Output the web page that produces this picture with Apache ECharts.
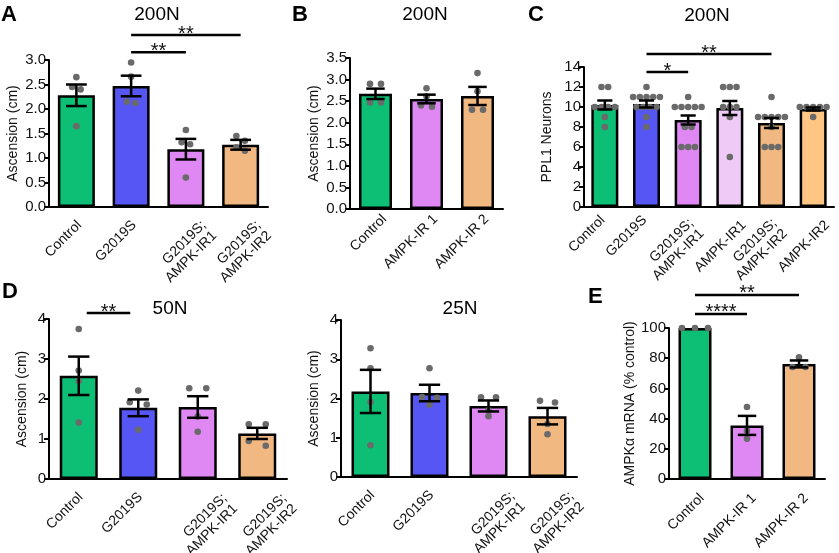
<!DOCTYPE html>
<html><head><meta charset="utf-8">
<script src="https://cdn.jsdelivr.net/npm/echarts@6/dist/echarts.min.js"></script>
<style>html,body{margin:0;padding:0;background:#fff}#c{width:839px;height:553px}</style>
</head><body><div id="c"></div>
<script>
// ---------------- DATA ----------------
// Panel A (200N)
const catsA = ['Control', 'G2019S', 'G2019S;\nAMPK-IR1', 'G2019S;\nAMPK-IR2'];
const meanA = [2.28, 2.47, 1.18, 1.27];
const semA  = [0.22, 0.21, 0.21, 0.10];
const ptsA  = [[2.65, 2.45, 2.40, 1.65], [2.95, 2.66, 2.15, 2.12], [1.57, 1.32, 1.28, 0.60], [1.45, 1.35, 1.22, 1.15]];
const ticksA = [0, 0.5, 1.0, 1.5, 2.0, 2.5, 3.0];
const sigA = [[1, 2, 3.16], [1, 3, 3.51]];
const sigTextA = ['**', '**'];

// Panel B (200N)
const catsB = ['Control', 'AMPK-IR 1', 'AMPK-IR 2'];
const meanB = [2.67, 2.55, 2.62];
const semB  = [0.12, 0.10, 0.21];
const ptsB  = [[2.90, 2.90, 2.47, 2.47], [2.80, 2.61, 2.40, 2.37], [3.15, 2.73, 2.30, 2.30]];
const ticksB = [0, 0.5, 1.0, 1.5, 2.0, 2.5, 3.0, 3.5];

// Panel C (200N, PPL1 neurons)
const catsC = ['Control', 'G2019S', 'G2019S;\nAMPK-IR1', 'AMPK-IR1', 'G2019S;\nAMPK-IR2', 'AMPK-IR2'];
const meanC = [10.2, 10.3, 8.7, 9.9, 8.4, 9.8];
const semC  = [0.45, 0.35, 0.45, 0.7, 0.5, 0.15];
const ptsC  = [
  [12, 12, 10, 10, 10, 10, 9, 8],
  [12, 11, 11, 11, 11, 11, 10, 10, 10, 10, 9, 8],
  [11, 10, 10, 10, 10, 10, 8, 8, 6, 6, 6],
  [12, 12, 12, 10, 10, 10, 9, 5],
  [11, 9, 9, 9, 9, 9, 8, 6, 6, 6],
  [10, 10, 10, 10, 10, 9]
];
const ticksC = [0, 2, 4, 6, 8, 10, 12, 14];
const sigC = [[1, 2, 13.5], [1, 4, 15.3]];
const sigTextC = ['*', '**'];

// Panel D (50N)
const catsD = ['Control', 'G2019S', 'G2019S;\nAMPK-IR1', 'G2019S;\nAMPK-IR2'];
const meanD = [2.58, 1.78, 1.80, 1.14];
const semD  = [0.48, 0.21, 0.27, 0.14];
const ptsD  = [[3.75, 2.71, 2.45, 1.41], [2.21, 1.92, 1.86, 1.23], [2.27, 2.27, 1.56, 1.18], [1.37, 1.37, 0.95, 0.83]];
const ticksD = [0, 1, 2, 3, 4];
const sigD = [[0, 1, 4.15]];
const sigTextD = ['**'];

// Panel D right (25N)
const catsF = ['Control', 'G2019S', 'G2019S;\nAMPK-IR1', 'G2019S;\nAMPK-IR2'];
const meanF = [2.18, 2.14, 1.81, 1.55];
const semF  = [0.55, 0.21, 0.14, 0.21];
const ptsF  = [[3.28, 2.77, 1.91, 0.81], [2.77, 2.04, 2.02, 1.84], [2.03, 2.03, 1.70, 1.55], [1.94, 1.90, 1.35, 1.09]];
const ticksF = [0, 1, 2, 3, 4];

// Panel E (mRNA)
const catsE = ['Control', 'AMPK-IR 1', 'AMPK-IR 2'];
const meanE = [100, 35.5, 76.2];
const semE  = [0, 6.3, 2.3];
const ptsE  = [[100, 100, 100], [47.7, 32, 26.7], [80.6, 74.2, 74.2]];
const ticksE = [0, 20, 40, 60, 80, 100];
const sigE = [[0, 2, 121.9], [0, 1, 109.3]];
const sigTextE = ['**', '****'];

// ---------------- STYLE ----------------
const GREEN = '#0cbf74', BLUE = '#5656f5', VIOLET = '#df88f4', PINK = '#efcaf6', TAN = '#f1b981', ORANGE = '#ffc583';
const FONT = '"Liberation Sans", Arial, Helvetica, sans-serif';
const INK = '#111';

const panels = [
  {cats: catsA, mean: meanA, sem: semA, pts: ptsA, ticks: ticksA, sig: sigA, sigText: sigTextA,
   colors: [GREEN, BLUE, VIOLET, TAN], grid: {left: 49, top: 60, width: 219, height: 147},
   barW: 37, spread: 8.5, yName: 'Ascension (cm)', nameGap: 29, dec: 1, sigInset: 0,
   lab1: [3, 16], lab2: [18, 16], labOff: {}},
  {cats: catsB, mean: meanB, sem: semB, pts: ptsB, ticks: ticksB, sig: [], sigText: [],
   colors: [GREEN, VIOLET, TAN], grid: {left: 350, top: 58, width: 153, height: 151},
   barW: 33, spread: 11, yName: 'Ascension (cm)', nameGap: 29, dec: 1, sigInset: 0,
   lab1: [9, 8], lab2: [20, 16], labOff: {}},
  {cats: catsC, mean: meanC, sem: semC, pts: ptsC, ticks: ticksC, sig: sigC, sigText: sigTextC,
   colors: [GREEN, BLUE, VIOLET, PINK, TAN, ORANGE], grid: {left: 584, top: 67, width: 250, height: 140},
   barW: 27, spread: 6.7, yName: 'PPL1 Neurons', nameGap: 30, dec: 0, sigInset: 0,
   lab1: [-2, 11], lab2: [3, 14], labOff: {3: [14, 16], 5: [14, 16]}},
  {cats: catsD, mean: meanD, sem: semD, pts: ptsD, ticks: ticksD, sig: sigD, sigText: sigTextD,
   colors: [GREEN, BLUE, VIOLET, TAN], grid: {left: 49, top: 319, width: 238, height: 160},
   barW: 38, spread: 17, yName: 'Ascension (cm)', nameGap: 20, dec: 0, sigInset: 8,
   lab1: [2, 16], lab2: [27, 17], labOff: {}},
  {cats: catsF, mean: meanF, sem: semF, pts: ptsF, ticks: ticksF, sig: [], sigText: [],
   colors: [GREEN, BLUE, VIOLET, TAN], grid: {left: 341, top: 320, width: 236, height: 157},
   barW: 38, spread: 15, yName: 'Ascension (cm)', nameGap: 20, dec: 0, sigInset: 0,
   lab1: [2, 16], lab2: [24, 17], labOff: {}},
  {cats: catsE, mean: meanE, sem: semE, pts: ptsE, ticks: ticksE, sig: sigE, sigText: sigTextE,
   colors: [GREEN, VIOLET, TAN], grid: {left: 669, top: 328, width: 156, height: 151},
   barW: 33, spread: 13, yName: 'AMPKα mRNA (% control)', nameGap: 29, dec: 0, sigInset: 0,
   lab1: [7, 17], lab2: [20, 16], labOff: {}}
];

const V = [Math.SQRT1_2, Math.SQRT1_2];
const LH = 15;
const LABEL_FONT = '14px ' + FONT;

function swarm(ys, spacing, thresh) {
  const idx = ys.map((y, i) => i).sort((a, b) => ys[a] - ys[b]);
  const off = new Array(ys.length).fill(0);
  let row = [];
  const flush = () => { row.forEach((i, j) => { off[i] = (j - (row.length - 1) / 2) * spacing; }); row = []; };
  idx.forEach(i => {
    if (row.length && Math.abs(ys[i] - ys[row[0]]) > thresh) flush();
    row.push(i);
  });
  flush();
  return off;
}

function txt(s, x, y) {
  return {type: 'text', x: x, y: y, rotation: Math.PI / 4,
    style: {text: s, align: 'right', verticalAlign: 'middle', font: LABEL_FONT, fill: INK}};
}

const grid = [], xAxis = [], yAxis = [], series = [];
panels.forEach((P, g) => {
  grid.push(Object.assign({containLabel: false}, P.grid));
  xAxis.push({type: 'category', gridIndex: g, data: P.cats,
    axisLine: {lineStyle: {color: '#000', width: 2}},
    axisTick: {alignWithLabel: true, length: 5, lineStyle: {color: '#000', width: 2}},
    axisLabel: {show: false}, splitLine: {show: false}});
  const t = P.ticks;
  yAxis.push({type: 'value', gridIndex: g, min: t[0], max: t[t.length - 1], interval: t[1] - t[0],
    name: P.yName, nameLocation: 'middle', nameGap: P.nameGap, nameRotate: 90,
    nameTextStyle: {fontSize: 14, color: INK, fontFamily: FONT},
    axisLine: {show: true, lineStyle: {color: '#000', width: 2}},
    axisTick: {show: true, length: 5, lineStyle: {color: '#000', width: 2}},
    axisLabel: {fontSize: 15, color: INK, fontFamily: FONT, margin: 3, formatter: v => v.toFixed(P.dec)},
    splitLine: {show: false}});
  // bars
  series.push({type: 'bar', xAxisIndex: g, yAxisIndex: g, barWidth: P.barW, z: 2,
    data: P.mean.map((m, i) => ({value: m, itemStyle: {color: P.colors[i], borderColor: '#000', borderWidth: 2.5}})),
    silent: true});
  // dots
  const dotData = [];
  P.pts.forEach((arr, c) => arr.forEach((v, k) => dotData.push([c, v, k])));
  series.push({type: 'custom', xAxisIndex: g, yAxisIndex: g, z: 3, clip: false, silent: true,
    encode: {x: 0, y: 1}, data: dotData,
    renderItem: (params, api) => {
      const c = api.value(0), k = api.value(2);
      const vals = P.pts[c];
      const ys = vals.map(v => api.coord([c, v])[1]);
      const off = swarm(ys, P.spread, 5);
      const p = api.coord([c, vals[k]]);
      return {type: 'circle', shape: {cx: p[0] + off[k], cy: p[1], r: 3.3}, style: {fill: '#6a6a6a'}};
    }});
  // error bars
  series.push({type: 'custom', xAxisIndex: g, yAxisIndex: g, z: 4, clip: false, silent: true,
    encode: {x: 0, y: 1}, data: P.mean.map((m, i) => [i, m, P.sem[i]]),
    renderItem: (params, api) => {
      const c = api.value(0), m = api.value(1), s = api.value(2);
      if (!s) return null;
      const a = api.coord([c, m + s]), b = api.coord([c, m - s]);
      const hw = P.barW * 0.28;
      const st = {stroke: '#000', lineWidth: 2.5};
      return {type: 'group', children: [
        {type: 'line', shape: {x1: a[0], y1: a[1], x2: b[0], y2: b[1]}, style: st},
        {type: 'line', shape: {x1: a[0] - hw, y1: a[1], x2: a[0] + hw, y2: a[1]}, style: st},
        {type: 'line', shape: {x1: b[0] - hw, y1: b[1], x2: b[0] + hw, y2: b[1]}, style: st}
      ]};
    }});
  // significance bars
  if (P.sig.length) {
    series.push({type: 'custom', xAxisIndex: g, yAxisIndex: g, z: 5, clip: false, silent: true,
      encode: {x: 0, y: 2}, data: P.sig,
      renderItem: (params, api) => {
        const c1 = api.value(0), c2 = api.value(1), y = api.value(2);
        const a = api.coord([c1, y]), b = api.coord([c2, y]);
        const x1 = a[0] + P.sigInset, x2 = b[0] - P.sigInset;
        return {type: 'group', children: [
          {type: 'line', shape: {x1: x1, y1: a[1], x2: x2, y2: a[1]}, style: {stroke: '#000', lineWidth: 2.5}},
          {type: 'text', x: (x1 + x2) / 2, y: a[1] - 1,
           style: {text: P.sigText[params.dataIndex], align: 'center', verticalAlign: 'middle', font: '20px ' + FONT, fill: INK}}
        ]};
      }});
  }
  // category labels (rotated 45 degrees)
  series.push({type: 'custom', xAxisIndex: g, yAxisIndex: g, z: 5, clip: false, silent: true,
    encode: {x: 0, y: 1}, data: P.cats.map((c, i) => [i, t[0]]),
    renderItem: (params, api) => {
      const c = api.value(0);
      const tp = api.coord([c, t[0]]);
      const lines = P.cats[c].split('\n');
      const o = P.labOff[c] || (lines.length === 1 ? P.lab1 : P.lab2);
      const x = tp[0] + o[0], y = tp[1] + o[1];
      return {type: 'group', children: lines.map((s, j) => txt(s, x + V[0] * LH * j, y + V[1] * LH * j))};
    }});
});

function label(s, x, y, size, bold, align) {
  return {type: 'text', x: x, y: y, silent: true,
    style: {text: s, font: (bold ? 'bold ' : '') + size + 'px ' + FONT, fill: '#000', align: align, verticalAlign: 'middle'}};
}

const chart = echarts.init(document.getElementById('c'), null, {renderer: 'canvas'});
chart.setOption({
  animation: false,
  backgroundColor: '#fff',
  textStyle: {fontFamily: FONT},
  grid: grid, xAxis: xAxis, yAxis: yAxis, series: series,
  graphic: [
    label('A', 1, 14.5, 22, true, 'left'),
    label('B', 292, 14.5, 22, true, 'left'),
    label('C', 528, 14.5, 22, true, 'left'),
    label('D', 2, 292, 22, true, 'left'),
    label('E', 588, 296.5, 22, true, 'left'),
    label('200N', 157, 15, 19, false, 'center'),
    label('200N', 425, 15, 19, false, 'center'),
    label('200N', 707, 16, 19, false, 'center'),
    label('50N', 170, 308.5, 19, false, 'center'),
    label('25N', 460, 309, 19, false, 'center')
  ]
});
</script></body></html>
